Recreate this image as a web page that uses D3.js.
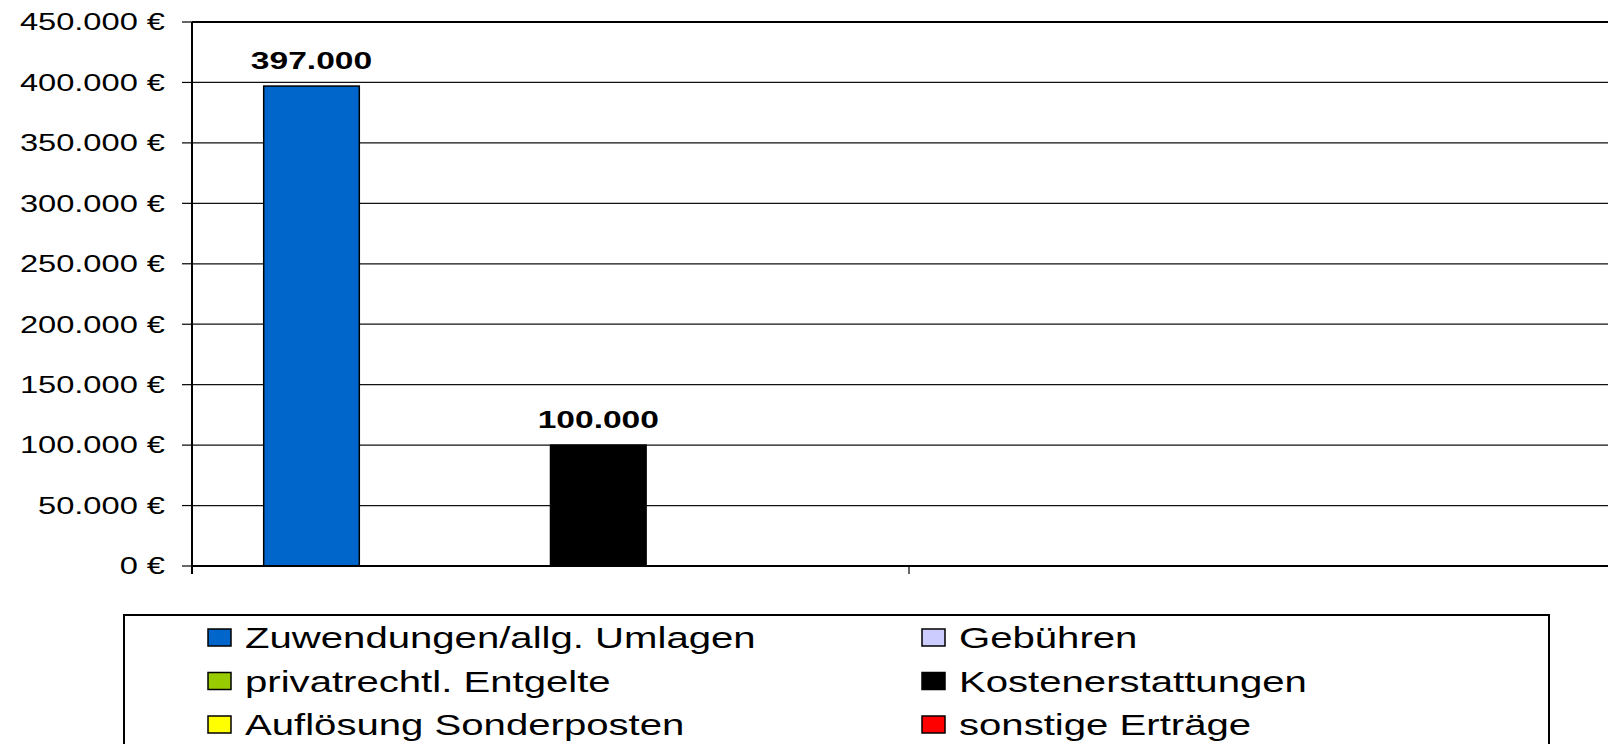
<!DOCTYPE html>
<html>
<head>
<meta charset="utf-8">
<script src="https://cdn.jsdelivr.net/npm/d3@7"></script>
<style>
body { margin: 0; background: #fff; }
text { font-family: "Liberation Sans", Arial, sans-serif; fill: #000; }
</style>
</head>
<body>
<script>
var canvasWidth = 1608;
var canvasHeight = 744;

// data
var seriesNames = ["Zuwendungen/allg. Umlagen", "Gebühren", "privatrechtl. Entgelte",
                   "Kostenerstattungen", "Auflösung Sonderposten", "sonstige Erträge"];
var seriesColors = ["#0066cc", "#ccccff", "#99cc00", "#000000", "#ffff00", "#ff0000"];
var categories = ["Kat1", "Kat2"];
var cat1Values = [397000, 0, 0, 100000, 0, 0];
var cat2Values = [0, 0, 0, 0, 0, 0];
var yTicks = [0, 50000, 100000, 150000, 200000, 250000, 300000, 350000, 400000, 450000];

var values = [cat1Values, cat2Values];

// layout
var plotLeft = 192;
var plotTop = 22;
var plotBottom = 566;
var catWidth = 717;
var stretchAxis = 1.36;
var stretchLabel = 1.37;
var stretchLegend = 1.36;

var de = d3.formatLocale({decimal: ",", thousands: ".", grouping: [3], currency: ["", " €"]});
var fmtNum = de.format(",.0f");

var svg = d3.select("body").append("svg")
    .attr("width", canvasWidth)
    .attr("height", canvasHeight);

var y = d3.scaleLinear().domain([0, 450000]).range([plotBottom, plotTop]);
var x0 = d3.scaleBand().domain(categories)
    .range([plotLeft, plotLeft + catWidth * categories.length]);
var x1 = d3.scaleBand().domain(d3.range(seriesNames.length))
    .range([0, x0.bandwidth()]).paddingInner(0).paddingOuter(0.75);

var plotRight = x0.range()[1];

// gridlines
svg.append("g").selectAll("line")
    .data(yTicks.filter(function(t) { return t > 0 && t < 450000; }))
    .enter().append("line")
    .attr("x1", plotLeft).attr("x2", plotRight)
    .attr("y1", function(d) { return y(d); })
    .attr("y2", function(d) { return y(d); })
    .attr("stroke", "#111").attr("stroke-width", 1.2);

// top border of plot area
svg.append("line")
    .attr("x1", plotLeft).attr("x2", plotRight)
    .attr("y1", y(450000)).attr("y2", y(450000))
    .attr("stroke", "#000").attr("stroke-width", 2);

// bars
values.forEach(function(row, ci) {
    var g = svg.append("g").attr("transform", "translate(" + x0(categories[ci]) + ",0)");
    var bars = row.map(function(v, si) { return {s: si, v: v}; })
        .filter(function(d) { return d.v > 0; });
    g.selectAll("rect").data(bars).enter().append("rect")
        .attr("x", function(d) { return x1(d.s); })
        .attr("width", x1.bandwidth())
        .attr("y", function(d) { return y(d.v); })
        .attr("height", function(d) { return y(0) - y(d.v); })
        .attr("fill", function(d) { return seriesColors[d.s]; })
        .attr("stroke", "#000").attr("stroke-width", 1.5);
    g.selectAll("text").data(bars).enter().append("text")
        .attr("transform", function(d) {
            return "translate(" + (x1(d.s) + x1.bandwidth() / 2) + "," + (y(d.v) - 17.5) + ") scale(" + stretchLabel + ",1)";
        })
        .attr("text-anchor", "middle")
        .attr("font-size", 24.5)
        .attr("font-weight", "bold")
        .text(function(d) { return fmtNum(d.v); });
});

// y axis
var yAxis = svg.append("g");
yAxis.append("line")
    .attr("x1", plotLeft).attr("x2", plotLeft)
    .attr("y1", plotTop).attr("y2", plotBottom + 8)
    .attr("stroke", "#000").attr("stroke-width", 2);
yAxis.selectAll("line.tick").data(yTicks).enter().append("line")
    .attr("class", "tick")
    .attr("x1", plotLeft - 10).attr("x2", plotLeft)
    .attr("y1", function(d) { return y(d); })
    .attr("y2", function(d) { return y(d); })
    .attr("stroke", "#000").attr("stroke-width", 1.2);
yAxis.selectAll("text").data(yTicks).enter().append("text")
    .attr("transform", function(d) {
        return "translate(" + (plotLeft - 27) + "," + (y(d) + 8.3) + ") scale(" + stretchAxis + ",1)";
    })
    .attr("text-anchor", "end")
    .attr("font-size", 24)
    .text(function(d) { return fmtNum(d) + " €"; });

// x axis
svg.append("line")
    .attr("x1", plotLeft).attr("x2", plotRight)
    .attr("y1", plotBottom).attr("y2", plotBottom)
    .attr("stroke", "#000").attr("stroke-width", 2);
svg.append("g").selectAll("line")
    .data(categories.concat(["end"]))
    .enter().append("line")
    .attr("x1", function(d, i) { return plotLeft + i * x0.step(); })
    .attr("x2", function(d, i) { return plotLeft + i * x0.step(); })
    .attr("y1", plotBottom).attr("y2", plotBottom + 8)
    .attr("stroke", "#000").attr("stroke-width", 1.2);

// legend
svg.append("rect")
    .attr("x", 124).attr("y", 615)
    .attr("width", 1425).attr("height", 160)
    .attr("fill", "#fff").attr("stroke", "#000").attr("stroke-width", 2);

var legendCols = [208, 922];
var legendRowY = d3.scalePoint().domain([0, 1, 2]).range([637.5, 724.5]);
var legend = svg.append("g").selectAll("g")
    .data(seriesNames).enter().append("g")
    .attr("transform", function(d, i) {
        return "translate(" + legendCols[i % 2] + "," + legendRowY(Math.floor(i / 2)) + ")";
    });
legend.append("rect")
    .attr("x", 0).attr("y", -8.5)
    .attr("width", 23).attr("height", 17)
    .attr("fill", function(d, i) { return seriesColors[i]; })
    .attr("stroke", "#000").attr("stroke-width", 1.5);
legend.append("text")
    .attr("transform", "translate(37,10.7) scale(" + stretchLegend + ",1)")
    .attr("font-size", 29.5)
    .text(function(d) { return d; });
</script>
</body>
</html>
